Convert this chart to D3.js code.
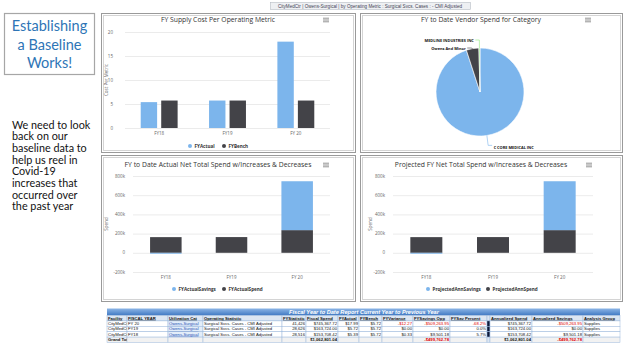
<!DOCTYPE html>
<html><head><meta charset="utf-8">
<script src="https://cdn.jsdelivr.net/npm/d3@7"></script>
<style>body{margin:0;background:#fff}svg{display:block}</style>
</head><body>
<script>
// ---------- DATA ----------
const categories = ["FY18", "FY19", "FY 20"];
const fyActual = [5.39, 5.72, 17.99];
const fyBench = [5.72, 5.72, 5.72];
const metricTicks = [0, 5, 10, 15, 20];

const vendorNames = ["C CORE MEDICAL INC", "Owens And Minor", "MEDLINE INDUSTRIES INC"];
const vendorSpend = [95.0, 4.6, 0.4];

const actualSpend = [163209.60, 163724.00, 236103.77];
const actualSavings = [-9501.18, 0, 509263.95];
const projSpend = [163209.60, 163724.00, 236103.77];
const projSavings = [-9501.18, 0, 509263.95];
const spendTicks = [-200000, 0, 200000, 400000, 600000, 800000];

const tableTitle = "Fiscal Year to Date Report Current Year to Previous Year";
const tableHeaders = ["Facility", "FISCAL YEAR", "Utilization Cat", "Operating Statistic", "FYStatistic", "Fiscal Spend", "FYActual", "FYBench", "FYVariance", "FYSavings Opp", "FYSav Percent", "", "Annualized Spend", "Annualized Savings", "Analysis Group"];
const tableRows = [
  ["CityMedCtr", "FY 20", "Owens-Surgical", "Surgical Svcs. Cases - CMI Adjusted", "41,426", "$745,367.72", "$17.99", "$5.72", "-$12.27", "-$509,263.95", "-68.2%", "", "$745,367.72", "-$509,263.95", "Supplies"],
  ["CityMedCtr", "FY19", "Owens-Surgical", "Surgical Svcs. Cases - CMI Adjusted", "28,626", "$163,724.00", "$5.72", "$5.72", "$0.00", "$0.00", "0.0%", "", "$163,724.00", "$0.00", "Supplies"],
  ["CityMedCtr", "FY18", "Owens-Surgical", "Surgical Svcs. Cases - CMI Adjusted", "28,516", "$153,708.42", "$5.39", "$5.72", "$0.33", "$9,501.18", "5.7%", "", "$153,708.42", "$9,501.18", "Supplies"]
];
const grandTotal = ["Grand Total", "", "", "", "", "$1,062,801.04", "", "", "", "-$499,762.78", "", "", "$1,062,801.04", "-$499,762.78", ""];

const filterText = "CityMedCtr | Owens-Surgical | by Operating Metric : Surgical Svcs. Cases : - CMI Adjusted";
const headline = ["Establishing", "a Baseline", "Works!"];
const bodyLines = ["We need to look", "back on our", "baseline data to", "help us reel in", "Covid-19", "increases that", "occurred over", "the past year"];

// ---------- STYLE ----------
const C1 = "#7cb5ec", C2 = "#434348", C3 = "#90ed7d";
const HF = "'Open Sans', 'Noto Sans', sans-serif";

const svg = d3.select("body").append("svg").attr("width", 624).attr("height", 351);
svg.append("rect").attr("width", 624).attr("height", 351).attr("fill", "#fff");

// filter label
svg.append("rect").attr("x", 270.5).attr("y", 2.5).attr("width", 200).attr("height", 7)
  .attr("fill", "#eef0f3").attr("stroke", "#b8bcc4").attr("stroke-width", 0.6);
svg.append("text").attr("x", 370).attr("y", 7.6).attr("text-anchor", "middle")
  .attr("font-family", "'Liberation Sans', Arial, sans-serif").attr("font-size", 4.6).attr("fill", "#445")
  .text(filterText);

// left headline box
svg.append("rect").attr("x", 4.5).attr("y", 13.5).attr("width", 90).attr("height", 61)
  .attr("fill", "#fff").attr("stroke", "#a6a6a6").attr("stroke-width", 1.2);
svg.append("g").selectAll("text").data(headline).join("text")
  .attr("x", 49.5).attr("y", (d, i) => 31 + i * 18.6).attr("text-anchor", "middle")
  .attr("font-family", "Lato, sans-serif").attr("font-size", 14.5).attr("fill", "#2e75b6")
  .text(d => d);
svg.append("g").selectAll("text").data(bodyLines).join("text")
  .attr("x", 12).attr("y", (d, i) => 128.5 + i * 11.7)
  .attr("font-family", "Lato, sans-serif").attr("font-size", 10.8).attr("fill", "#111")
  .text(d => d);

// panels
const panels = [[101, 13, 254, 139], [360, 13, 262, 139], [101, 155, 254, 146], [360, 155, 262, 146]];
panels.forEach(p => {
  svg.append("rect").attr("x", p[0] + 0.5).attr("y", p[1] + 0.5).attr("width", p[2]).attr("height", p[3])
    .attr("fill", "#fff").attr("stroke", "#9a9a9a").attr("stroke-width", 1);
  svg.append("rect").attr("x", p[0] + 2.5).attr("y", p[1] + 2.5).attr("width", p[2] - 4).attr("height", p[3] - 4)
    .attr("fill", "none").attr("stroke", "#d4d4d4").attr("stroke-width", 1);
});

function title(x, y, t) {
  svg.append("text").attr("x", x).attr("y", y).attr("text-anchor", "middle")
    .attr("font-family", HF).attr("font-size", 6.8).attr("fill", "#333").text(t);
}
function burger(x, y) {
  const g = svg.append("g");
  [-1.8, 0, 1.8].forEach(d => g.append("line").attr("x1", x - 3).attr("x2", x + 3)
    .attr("y1", y + d).attr("y2", y + d).attr("stroke", "#666").attr("stroke-width", 0.7));
}
function legend(items, y) {
  items.forEach(it => {
    svg.append("circle").attr("cx", it.x).attr("cy", y).attr("r", 2).attr("fill", it.c);
    svg.append("text").attr("x", it.x + 4.5).attr("y", y + 1.7).attr("font-family", HF)
      .attr("font-size", 4.6).attr("font-weight", "bold").attr("fill", "#333").text(it.t);
  });
}

// generic column chart (Highcharts-like grouping)
function columnChart(o) {
  const x = d3.scaleBand().domain(categories).range([o.x0, o.x1]).padding(0);
  const y = d3.scaleLinear().domain(o.domain).range([o.yBottom, o.yTop]);
  const g = svg.append("g");
  g.selectAll(".grid").data(o.ticks).join("line")
    .attr("x1", o.x0).attr("x2", o.x1).attr("y1", d => y(d) + 0.5).attr("y2", d => y(d) + 0.5)
    .attr("stroke", "#e6e6e6").attr("stroke-width", 0.8);
  g.selectAll(".yl").data(o.ticks).join("text")
    .attr("x", o.x0 - o.gap).attr("y", d => y(d) + 1.5).attr("text-anchor", "end")
    .attr("font-family", HF).attr("font-size", 4.5).attr("fill", "#666").text(o.fmt);
  g.selectAll(".xl").data(categories).join("text")
    .attr("x", d => x(d) + x.bandwidth() / 2).attr("y", o.yBottom + 6.5).attr("text-anchor", "middle")
    .attr("font-family", HF).attr("font-size", 4.5).attr("fill", "#666").text(d => d);
  svg.append("text").attr("transform", `translate(${o.titleX},${(o.yTop + o.yBottom) / 2}) rotate(-90)`)
    .attr("text-anchor", "middle").attr("font-family", HF).attr("font-size", 4.5).attr("fill", "#666")
    .text(o.yTitle);
  const bw = x.bandwidth();
  const grpW = bw * 0.6;
  if (o.stacked) {
    const pw = grpW * 0.8;
    categories.forEach((c, i) => {
      const cx = x(c) + bw / 2;
      const base = o.series[1].values[i];
      const sav = o.series[0].values[i];
      g.append("rect").attr("x", cx - pw / 2).attr("width", pw)
        .attr("y", y(Math.max(0, base))).attr("height", Math.abs(y(0) - y(base)))
        .attr("fill", o.series[1].color);
      if (sav >= 0) {
        g.append("rect").attr("x", cx - pw / 2).attr("width", pw)
          .attr("y", y(base + sav)).attr("height", y(base) - y(base + sav))
          .attr("fill", o.series[0].color);
      } else {
        g.append("rect").attr("x", cx - pw / 2).attr("width", pw)
          .attr("y", y(0)).attr("height", y(sav) - y(0))
          .attr("fill", o.series[0].color);
      }
    });
  } else {
    const n = o.series.length;
    const pw = grpW / n;
    o.series.forEach((s, si) => {
      g.selectAll(".b" + si).data(s.values).join("rect")
        .attr("x", (d, i) => x(categories[i]) + bw * 0.2 + si * pw + pw * 0.1)
        .attr("width", pw * 0.8)
        .attr("y", d => y(d)).attr("height", d => y(0) - y(d))
        .attr("fill", s.color);
    });
  }
}

// Chart 1
title(218, 22, "FY Supply Cost Per Operating Metric");
burger(326, 20);
columnChart({
  x0: 125, x1: 330, yTop: 32, yBottom: 128, domain: [0, 20], ticks: metricTicks,
  fmt: d => d, titleX: 108, yTitle: "Cost Per Metric", gap: 12,
  series: [{ values: fyActual, color: C1 }, { values: fyBench, color: C2 }]
});
legend([{ x: 190, t: "FYActual", c: C1 }, { x: 224, t: "FYBench", c: C2 }], 146);

// Chart 2 pie
title(481, 22, "FY to Date Vendor Spend for Category");
burger(588, 20);
{
  const cx = 480, cy = 92, r = 44;
  const pie = d3.pie().sort(null).value(d => d)(vendorSpend);
  const arc = d3.arc().innerRadius(0).outerRadius(r);
  const g = svg.append("g").attr("transform", `translate(${cx},${cy})`);
  const cols = [C1, C2, C3];
  g.selectAll("path").data(pie).join("path").attr("d", arc)
    .attr("fill", (d, i) => cols[i]).attr("stroke", "#fff").attr("stroke-width", 0.6);
  const labs = pie.map((d, i) => {
    const a = (d.startAngle + d.endAngle) / 2;
    const p0 = [Math.sin(a) * r, -Math.cos(a) * r];
    const p1 = [Math.sin(a) * (r + 8), -Math.cos(a) * (r + 8)];
    return { i, a, p0, p1, left: Math.sin(a) < 0.05 && Math.cos(a) > -0.5 };
  });
  const left = labs.filter(l => l.left).sort((a, b) => a.p1[1] - b.p1[1]);
  for (let k = 1; k < left.length; k++) {
    if (left[k].p1[1] - left[k - 1].p1[1] < 8) left[k].p1[1] = left[k - 1].p1[1] + 8;
  }
  labs.forEach(l => {
    const dir = l.left ? -1 : 1;
    const ex = l.p1[0] + dir * 4;
    let ly = l.p1[1];
    if (!l.left) { ly = l.p1[1] + 2; }
    g.append("path").attr("d", `M${l.p0[0]},${l.p0[1]}L${l.p1[0]},${ly}L${ex},${ly}`)
      .attr("fill", "none").attr("stroke", cols[l.i]).attr("stroke-width", 0.6);
    g.append("text").attr("x", ex + dir * 1.5).attr("y", ly + (l.left ? 1.5 : 4))
      .attr("text-anchor", l.left ? "end" : "start")
      .attr("font-family", HF).attr("font-size", 3.9).attr("font-weight", "bold").attr("fill", "#111")
      .text(vendorNames[l.i]);
  });
}

// Chart 3
const kfmt = d => d === 0 ? "0" : (d / 1000) + "k";
title(218, 167, "FY to Date Actual Net Total Spend w/Increases & Decreases");
burger(326, 165);
columnChart({
  x0: 133, x1: 330, yTop: 176, yBottom: 272, domain: [-200000, 800000], ticks: spendTicks,
  fmt: kfmt, titleX: 108, yTitle: "Spend", stacked: true, gap: 8,
  series: [{ values: actualSavings, color: C1 }, { values: actualSpend, color: C2 }]
});
legend([{ x: 174, t: "FYActualSavings", c: C1 }, { x: 224, t: "FYActualSpend", c: C2 }], 289);

// Chart 4
title(481, 167, "Projected FY Net Total Spend w/Increases & Decreases");
burger(589, 165);
columnChart({
  x0: 393, x1: 593, yTop: 176, yBottom: 272, domain: [-200000, 800000], ticks: spendTicks,
  fmt: kfmt, titleX: 372, yTitle: "Spend", stacked: true, gap: 8,
  series: [{ values: projSavings, color: C1 }, { values: projSpend, color: C2 }]
});
legend([{ x: 428, t: "ProjectedAnnSavings", c: C1 }, { x: 488, t: "ProjectedAnnSpend", c: C2 }], 289);

// ---------- TABLE ----------
{
  const edges = [107, 127, 168, 203, 282, 306, 338, 359, 382, 413, 450, 487, 490, 532, 583, 620];
  const TF = "'Liberation Sans', Arial, sans-serif";
  const defs = svg.append("defs");
  const gr = defs.append("linearGradient").attr("id", "hb").attr("x1", 0).attr("y1", 0).attr("x2", 0).attr("y2", 1);
  gr.append("stop").attr("offset", 0).attr("stop-color", "#8cb5e6");
  gr.append("stop").attr("offset", 1).attr("stop-color", "#3f78c2");
  const top = 308.5;
  svg.append("rect").attr("x", edges[0]).attr("y", top).attr("width", edges[edges.length - 1] - edges[0]).attr("height", 7)
    .attr("fill", "url(#hb)");
  svg.append("text").attr("x", 364).attr("y", top + 5.4).attr("text-anchor", "middle")
    .attr("font-family", TF).attr("font-size", 5.6).attr("font-weight", "bold").attr("font-style", "italic")
    .attr("fill", "#fff").text(tableTitle);
  const rh = 5.4;
  const rowsAll = [tableHeaders, ...tableRows, grandTotal];
  const leftCols = [0, 1, 2, 3, 14];
  rowsAll.forEach((row, ri) => {
    const y0 = top + 7 + ri * rh;
    row.forEach((cell, ci) => {
      const xa = edges[ci], xb = edges[ci + 1];
      let fill = ri === 0 ? "#dce6f2" : (ri === rowsAll.length - 1 ? "#f2f2f2" : "#fff");
      if (ci === 11) fill = ri === 0 || ri === rowsAll.length - 1 ? "#dce6f2" : "#0f1a3a";
      if (ci === 2 && ri > 0 && ri < rowsAll.length - 1) fill = "#e3edf9";
      svg.append("rect").attr("x", xa).attr("y", y0).attr("width", xb - xa).attr("height", rh)
        .attr("fill", fill).attr("stroke", "#9bb8dc").attr("stroke-width", 0.5);
      if (!cell) return;
      const isLeft = leftCols.includes(ci) || ri === 0;
      const t = svg.append("text")
        .attr("x", isLeft ? xa + 1 : xb - 1).attr("y", y0 + 4)
        .attr("text-anchor", isLeft ? "start" : "end")
        .attr("font-family", TF).attr("font-size", 4.2)
        .attr("fill", cell.startsWith("-") ? "#e00000" : (ci === 2 && ri > 0 ? "#1f4fb4" : "#111"))
        .text(cell);
      if (ri === 0) t.attr("font-weight", "bold").attr("text-decoration", "underline");
      if (ri === rowsAll.length - 1) t.attr("font-weight", "bold");
      if (ci === 2 && ri > 0) t.attr("text-decoration", "underline");
    });
  });
}
</script>
</body></html>
